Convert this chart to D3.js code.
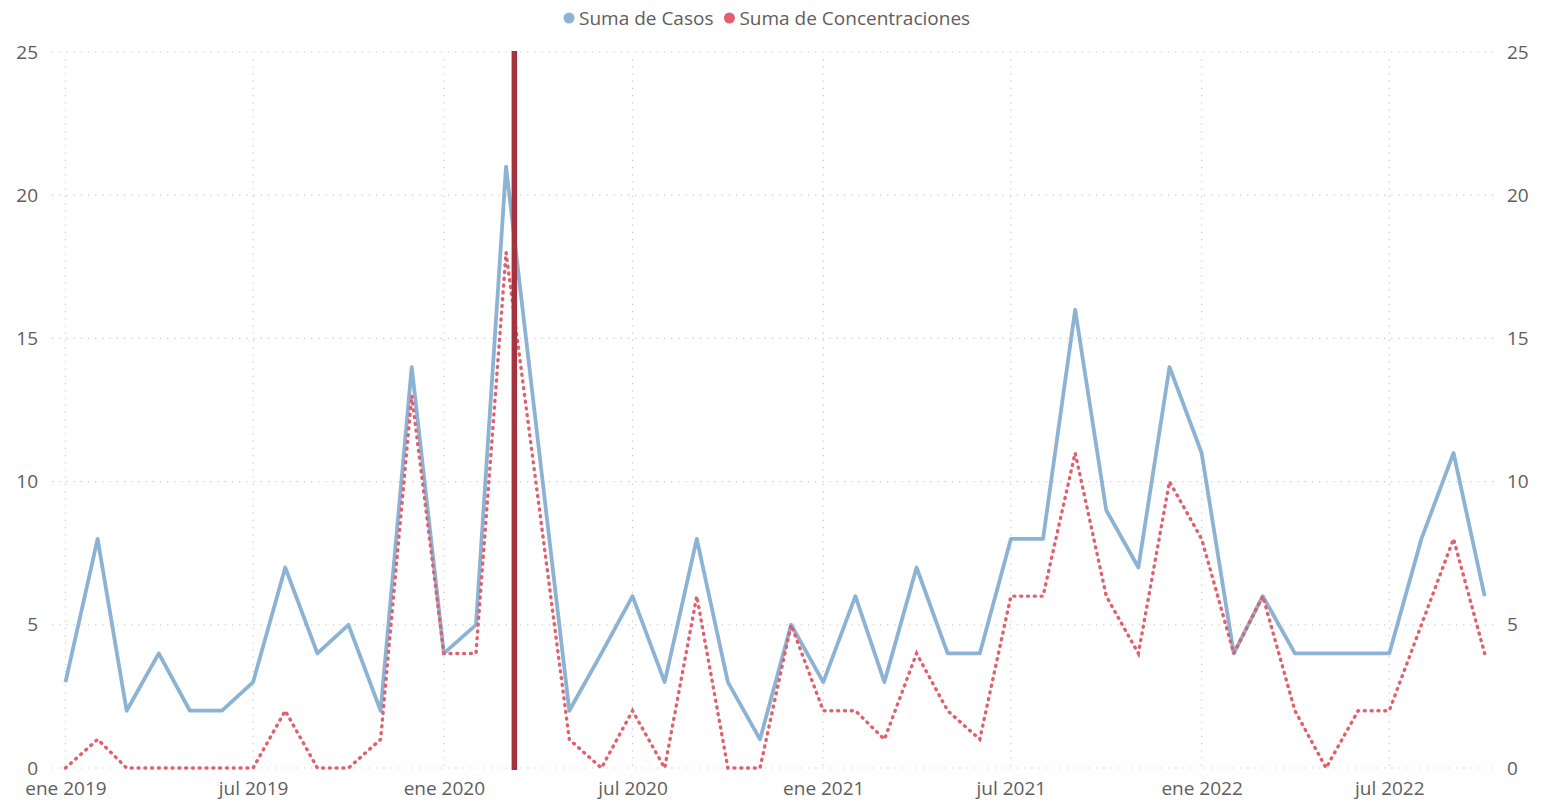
<!DOCTYPE html>
<html>
<head>
<meta charset="utf-8">
<script src="https://cdn.jsdelivr.net/npm/d3@7"></script>
<style>
  body { margin: 0; background: #fff; }
  svg text { font-family: "Segoe UI", "Open Sans", sans-serif; fill: #605e5c; }
</style>
</head>
<body>
<div id="chart-area"></div>
<script>
// months (null = no data for that month)
const months = [
  "2019-01","2019-02","2019-03","2019-04","2019-05","2019-06","2019-07","2019-08","2019-09","2019-10","2019-11","2019-12",
  "2020-01","2020-02","2020-03","2020-04","2020-05","2020-06","2020-07","2020-08","2020-09","2020-10","2020-11","2020-12",
  "2021-01","2021-02","2021-03","2021-04","2021-05","2021-06","2021-07","2021-08","2021-09","2021-10","2021-11","2021-12",
  "2022-01","2022-02","2022-03","2022-04","2022-05","2022-06","2022-07","2022-08","2022-09","2022-10"
]
const casos = [
  3, 8, 2, 4, 2, 2, 3, 7, 4, 5, 2, 14,
  4, 5, 21, null, 2, 4, 6, 3, 8, 3, 1, 5,
  3, 6, 3, 7, 4, 4, 8, 8, 16, 9, 7, 14,
  11, 4, 6, 4, 4, 4, 4, 8, 11, 6
]
const concentraciones = [
  0, 1, 0, 0, 0, 0, 0, 2, 0, 0, 1, 13,
  4, 4, 18, null, 1, 0, 2, 0, 6, 0, 0, 5,
  2, 2, 1, 4, 2, 1, 6, 6, 11, 6, 4, 10,
  8, 4, 6, 2, 0, 2, 2, 5, 8, 4
]
const seriesNames = ["Suma de Casos", "Suma de Concentraciones"]
const yTicks = [0, 5, 10, 15, 20, 25]
const xTickMonths = ["2019-01","2019-07","2020-01","2020-07","2021-01","2021-07","2022-01","2022-07"]
const monthNames = ["ene","feb","mar","abr","may","jun","jul","ago","sep","oct","nov","dic"]
const refDate = "2020-03-09"

const W = 1555, H = 802
const PLOT = { LEFT: 52, RIGHT: 1495, TOP: 52, BOTTOM: 768 }
const BLUE = "#8cb3d4", RED = "#e0606d", REF = "#a4323f", GRID = "#c8c8c8"
const FONT = "19px"

const parseMonth = d3.timeParse("%Y-%m")
const parseDay = d3.timeParse("%Y-%m-%d")
const dates = months.map(parseMonth)

const svg = d3.select("#chart-area").append("svg")
  .attr("width", W)
  .attr("height", H)

// scales
const x = d3.scaleTime()
  .domain([d3.timeDay.offset(dates[0], -12.5), d3.timeDay.offset(dates[dates.length - 1], 10)])
  .range([PLOT.LEFT, PLOT.RIGHT])
const y = d3.scaleLinear().domain([0, 25]).range([PLOT.BOTTOM, PLOT.TOP])

// gridlines
const grid = svg.append("g")
  .attr("stroke", GRID)
  .attr("stroke-width", 1.2)
  .attr("stroke-dasharray", "1.2 6")
grid.selectAll(".hgrid").data(yTicks).enter().append("line")
  .attr("x1", PLOT.LEFT).attr("x2", PLOT.RIGHT)
  .attr("y1", d => y(d)).attr("y2", d => y(d))
grid.selectAll(".vgrid").data(xTickMonths.map(parseMonth)).enter().append("line")
  .attr("x1", d => x(d)).attr("x2", d => x(d))
  .attr("y1", PLOT.TOP + 7).attr("y2", PLOT.BOTTOM)

// y axes (left + right)
const yAxisL = d3.axisLeft(y).tickValues(yTicks).tickSize(0).tickPadding(14)
const yAxisR = d3.axisRight(y).tickValues(yTicks).tickSize(0).tickPadding(12)
svg.append("g").attr("transform", `translate(${PLOT.LEFT}, 0)`).call(yAxisL)
svg.append("g").attr("transform", `translate(${PLOT.RIGHT}, 0)`).call(yAxisR)

// x axis
const xAxis = d3.axisBottom(x)
  .tickValues(xTickMonths.map(parseMonth))
  .tickFormat(d => `${monthNames[d.getMonth()]} ${d.getFullYear()}`)
  .tickSize(0).tickPadding(14)
svg.append("g").attr("transform", `translate(0, ${PLOT.BOTTOM})`).call(xAxis)

svg.selectAll(".domain").remove()
svg.selectAll(".tick text").style("font-size", FONT).attr("fill", "#605e5c")

// lines
const line = d3.line()
  .x(d => x(d.date))
  .y(d => y(d.value))

const toPoints = vals => dates.map((d, i) => ({ date: d, value: vals[i] })).filter(d => d.value !== null)

svg.append("path")
  .attr("fill", "none")
  .attr("stroke", BLUE)
  .attr("stroke-width", 3.8)
  .attr("stroke-linejoin", "round")
  .attr("d", line(toPoints(casos)))

svg.append("path")
  .attr("fill", "none")
  .attr("stroke", RED)
  .attr("stroke-width", 3.4)
  .attr("stroke-linecap", "round")
  .attr("stroke-dasharray", "1 5.8")
  .attr("d", line(toPoints(concentraciones)))

// reference line
svg.append("line")
  .attr("x1", x(parseDay(refDate))).attr("x2", x(parseDay(refDate)))
  .attr("y1", PLOT.TOP - 1).attr("y2", PLOT.BOTTOM + 2)
  .attr("stroke", REF)
  .attr("stroke-width", 5.5)

// legend
const legend = svg.append("g").attr("transform", "translate(569, 18)")
const legendColors = [BLUE, RED]
let lx = 0
seriesNames.forEach((name, i) => {
  const item = legend.append("g").attr("transform", `translate(${lx}, 0)`)
  item.append("circle").attr("r", 5.5).attr("fill", legendColors[i])
  const t = item.append("text")
    .attr("x", 10)
    .attr("dy", "0.35em")
    .style("font-size", FONT)
    .text(name)
  lx += 10 + t.node().getComputedTextLength() + 16
})
</script>
</body>
</html>
